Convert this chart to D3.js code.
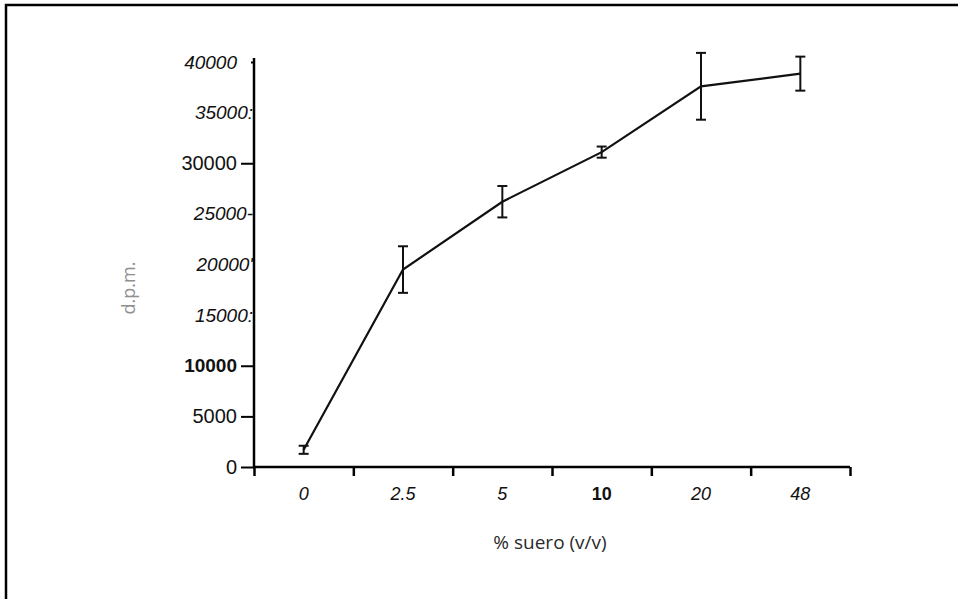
<!DOCTYPE html>
<html>
<head>
<meta charset="utf-8">
<script src="https://cdn.jsdelivr.net/npm/d3@7"></script>
<style>
  body { margin: 0; background: #fff; }
  svg { display: block; }
</style>
</head>
<body>
<div id="chart"></div>
<script>
// Data
const serumLevels = ["0", "2.5", "5", "10", "20", "48"];
const dpmMean = [1700, 19500, 26200, 31100, 37600, 38850];
const dpmError = [400, 2300, 1550, 550, 3300, 1680];
const yTickValues = [0, 5000, 10000, 15000, 20000, 25000, 30000, 35000, 40000];
const yTickLabels = ["0", "5000", "10000", "15000:", "20000'", "25000-", "30000", "35000:", "40000"];

document.addEventListener("DOMContentLoaded", () => {
    const width = 958, height = 599;
    const left = 254, right = 850, top = 62, bottom = 467;

    const svg = d3.select("#chart").append("svg")
        .attr("width", width)
        .attr("height", height);

    // outer frame (runs off the page on the right and bottom)
    svg.append("rect")
        .attr("x", 6).attr("y", 5)
        .attr("width", 1000).attr("height", 700)
        .attr("fill", "none")
        .attr("stroke", "#000")
        .attr("stroke-width", 2.5);

    const x = d3.scaleBand()
        .domain(serumLevels)
        .range([left, right]);

    const xEdges = d3.scaleLinear()
        .domain([0, serumLevels.length])
        .range([left, right]);

    const y = d3.scaleLinear()
        .domain([0, 40000])
        .range([bottom, top]);

    // x axis: line + boundary ticks
    const xAxisG = svg.append("g")
        .attr("transform", `translate(0,${bottom})`)
        .call(d3.axisBottom(xEdges).ticks(serumLevels.length).tickSize(9).tickFormat(""));
    xAxisG.select(".domain").attr("stroke-width", 2.5).attr("d", `M${left},0H${right}`);
    xAxisG.selectAll(".tick line").attr("stroke-width", 2.5);

    // x labels centred in each band
    const xLabelG = svg.append("g")
        .attr("transform", `translate(0,${bottom})`)
        .call(d3.axisBottom(x).tickSize(0));
    xLabelG.select(".domain").remove();
    xLabelG.selectAll(".tick text")
        .attr("y", 33)
        .attr("dy", 0)
        .attr("fill", "#111")
        .style("font-family", "'Liberation Sans', Arial, sans-serif")
        .style("font-size", "18px")
        .style("font-style", d => d === "10" ? "normal" : "italic")
        .style("font-weight", d => d === "10" ? "bold" : "normal");

    // y axis
    const tickedValues = [0, 5000, 10000, 30000];
    const yAxisG = svg.append("g")
        .attr("transform", `translate(${left},0)`)
        .call(d3.axisLeft(y)
            .tickValues(yTickValues)
            .tickSize(8)
            .tickPadding(3)
            .tickFormat((d, i) => yTickLabels[i]));
    yAxisG.select(".domain").attr("stroke-width", 2.5).attr("d", `M0,${top - 4}V${bottom}`);
    yAxisG.selectAll(".tick line")
        .attr("stroke-width", 2)
        .attr("x2", d => tickedValues.includes(d) ? -13 : (d === 40000 ? -3 : 0));
    yAxisG.selectAll(".tick text")
        .attr("fill", "#111")
        .attr("x", d => tickedValues.includes(d) || d === 40000 ? -17 : -1)
        .style("font-family", "'Liberation Sans', Arial, sans-serif")
        .style("font-size", d => (d === 30000 || d === 5000 || d === 0) ? "20px" : "19px")
        .style("font-style", d => tickedValues.includes(d) ? "normal" : "italic")
        .style("font-weight", d => d === 10000 ? "bold" : "normal");

    // axis titles
    svg.append("text")
        .attr("transform", `translate(135,288) rotate(-90)`)
        .attr("text-anchor", "middle")
        .attr("fill", "#8f8f8f")
        .style("font-family", "'Open Sans', 'DejaVu Sans', sans-serif")
        .style("font-size", "18px")
        .text("d.p.m.");

    svg.append("text")
        .attr("x", 550).attr("y", 549)
        .attr("text-anchor", "middle")
        .attr("fill", "#2a2a2a")
        .style("font-family", "'Open Sans', 'DejaVu Sans', sans-serif")
        .style("font-size", "19px")
        .text("% suero (v/v)");

    const points = serumLevels.map((s, i) => ({ s, m: dpmMean[i], e: dpmError[i] }));
    const cx = d => x(d.s) + x.bandwidth() / 2;

    // line
    svg.append("path")
        .datum(points)
        .attr("fill", "none")
        .attr("stroke", "#111")
        .attr("stroke-width", 2.2)
        .attr("d", d3.line().x(cx).y(d => y(d.m)));

    // error bars
    const eb = svg.append("g")
        .attr("stroke", "#111")
        .attr("stroke-width", 2);
    eb.selectAll(".stem").data(points).enter().append("line")
        .attr("x1", cx).attr("x2", cx)
        .attr("y1", d => y(d.m + d.e)).attr("y2", d => y(d.m - d.e));
    eb.selectAll(".capTop").data(points).enter().append("line")
        .attr("x1", d => cx(d) - 5).attr("x2", d => cx(d) + 5)
        .attr("y1", d => y(d.m + d.e)).attr("y2", d => y(d.m + d.e));
    eb.selectAll(".capBot").data(points).enter().append("line")
        .attr("x1", d => cx(d) - 5).attr("x2", d => cx(d) + 5)
        .attr("y1", d => y(d.m - d.e)).attr("y2", d => y(d.m - d.e));
});
</script>
</body>
</html>
